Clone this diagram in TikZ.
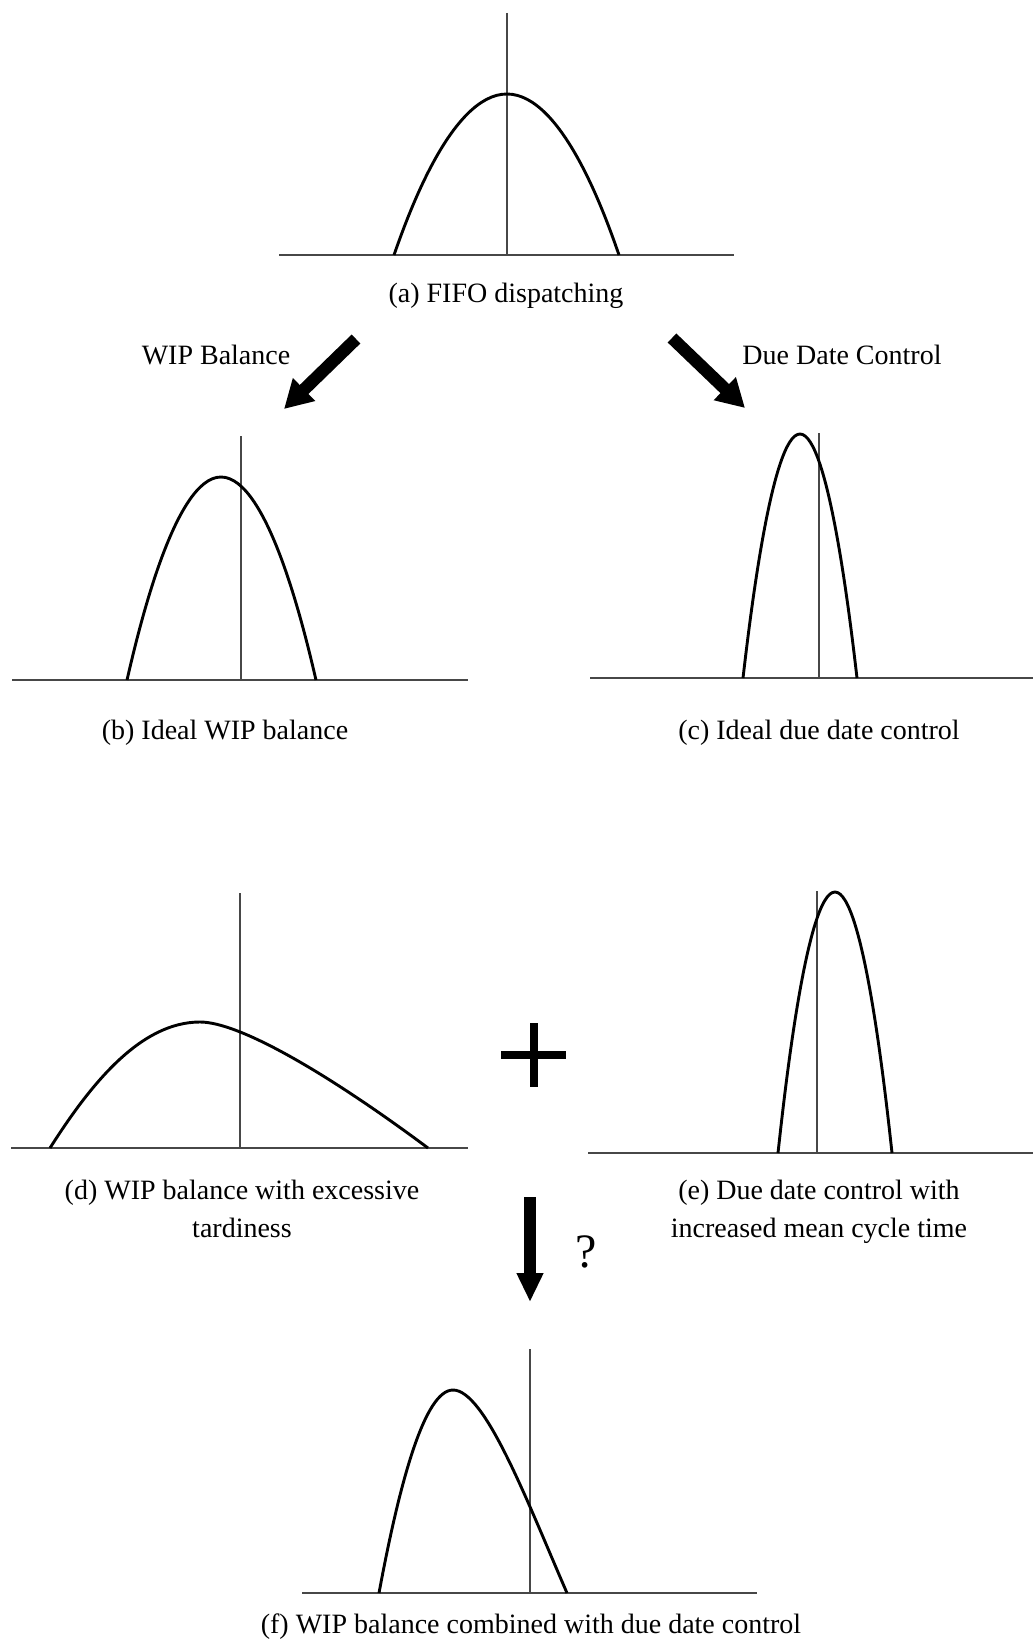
\documentclass[tikz,border=0pt]{standalone}
\usepackage{fontspec}
\setmainfont{Liberation Serif}
\usetikzlibrary{arrows.meta}
\begin{document}
\begin{tikzpicture}[x=1pt,y=-1pt,
  axisline/.style={draw=black!72, line width=1.6pt},
  dueline/.style={draw=black!72, line width=1.2pt},
  distcurve/.style={draw=black, line width=2.9pt, line join=round},
  captext/.style={anchor=base, inner sep=0pt, font=\fontsize{28}{38}\selectfont, align=center},
  bigarrow/.style={line width=12.5pt, -{Triangle[length=28pt,width=30pt]}},
]
\useasboundingbox (0,0) rectangle (1033,1640);

% ---------- (a) FIFO dispatching ----------
\draw[axisline] (279,255) -- (734,255);
\draw[dueline] (507,13) -- (507,255);
\draw[distcurve] (394,255) parabola bend (507,94) (619,255);
\node[captext] (capa) at (506,302) {(a) FIFO dispatching};

% ---------- arrows from (a) ----------
\node[captext] (lblwip) at (216,364) {WIP Balance};
\node[captext] (lbldue) at (842,364) {Due Date Control};
\coordinate (wipS) at (356,339);
\coordinate (wipE) at (284,409);
\coordinate (dueS) at (672,338);
\coordinate (dueE) at (745,408);
\draw[bigarrow] (wipS) -- (wipE);
\draw[bigarrow] (dueS) -- (dueE);

% ---------- (b) Ideal WIP balance ----------
\draw[axisline] (12,680) -- (468,680);
\draw[dueline] (241,436) -- (241,680);
\draw[distcurve] (127,680) parabola bend (221,477) (316,680);
\node[captext] (capb) at (225,739) {(b) Ideal WIP balance};

% ---------- (c) Ideal due date control ----------
\draw[axisline] (590,678) -- (1033,678);
\draw[dueline] (819,433) -- (819,678);
\draw[distcurve] (743,678) parabola bend (800,434) (857,678);
\node[captext] (capc) at (819,739) {(c) Ideal due date control};

% ---------- (d) WIP balance with excessive tardiness ----------
\draw[axisline] (11,1148) -- (468,1148);
\draw[dueline] (240,893) -- (240,1148);
\draw[distcurve] (50,1148) .. controls (90,1085) and (140,1022) .. (200,1022)
  .. controls (240,1022) and (330,1075) .. (428,1148);
\node[captext] (capd) at (242,1237) {(d) WIP balance with excessive\\tardiness};

% ---------- plus sign ----------
\coordinate (plusC) at (533.5,1054.5);
\draw[line width=8pt] (501,1054.5) -- (566,1054.5);
\draw[line width=8pt] (533.5,1023) -- (533.5,1087);

% ---------- (e) Due date control with increased mean cycle time ----------
\draw[axisline] (588,1153) -- (1033,1153);
\draw[dueline] (817,891) -- (817,1153);
\draw[distcurve] (778,1153) parabola bend (835,892) (892,1153);
\node[captext] (cape) at (819,1237) {(e) Due date control with\\increased mean cycle time};

% ---------- arrow to (f) ----------
\coordinate (downS) at (530,1197);
\coordinate (downE) at (530,1302);
\draw[line width=12pt, -{Triangle[length=29pt,width=25pt]}] (downS) -- (downE);
\node[anchor=base, inner sep=0pt, font=\fontsize{48}{52}\selectfont] (qmark) at (586,1267) {?};

% ---------- (f) WIP balance combined with due date control ----------
\draw[axisline] (302,1593) -- (757,1593);
\draw[dueline] (530,1349) -- (530,1593);
\draw[distcurve] (379,1593) .. controls (400,1480) and (425,1390) .. (453,1390)
  .. controls (485,1390) and (527,1501) .. (567,1593);
\node[captext] (capf) at (531,1633) {(f) WIP balance combined with due date control};
\end{tikzpicture}
\end{document}
